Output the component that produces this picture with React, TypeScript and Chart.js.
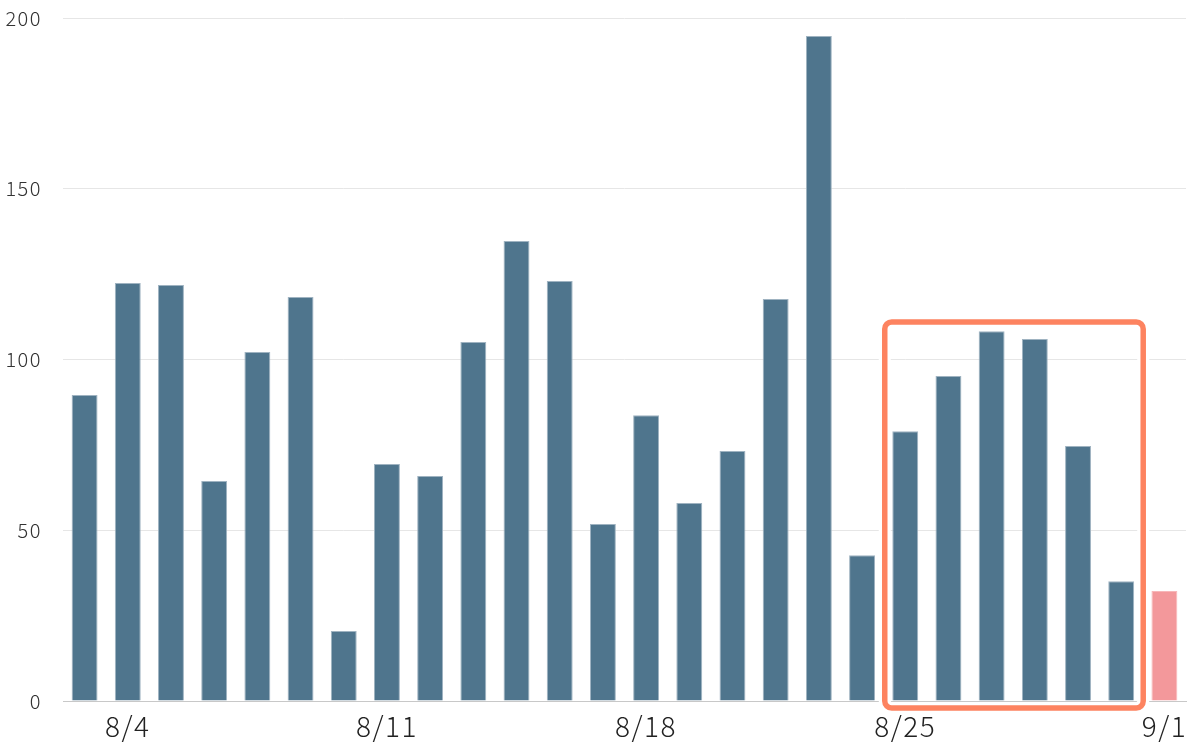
import React, { useEffect, useRef } from "react";
import { Chart, registerables } from "chart.js";

Chart.register(...registerables);

const categories = [
  "8/2", "8/4", "8/5", "8/6", "8/7", "8/8", "8/9",
  "8/11", "8/12", "8/13", "8/14", "8/15", "8/16",
  "8/18", "8/19", "8/20", "8/21", "8/22", "8/23",
  "8/25", "8/26", "8/27", "8/28", "8/29", "8/30",
  "9/1",
];
const shownTicks = ["8/4", "8/11", "8/18", "8/25", "9/1"];
const values = [
  89.6, 122.4, 121.8, 64.4, 102.2, 118.3, 20.5,
  69.4, 65.9, 105.1, 134.7, 123.0, 51.8,
  83.7, 58.0, 73.2, 117.7, 194.7, 42.7,
  79.0, 95.2, 108.3, 106.0, 74.7, 35.1,
  32.2,
];
const highlightStart = 19;
const highlightEnd = 24;
const highlightTop = 111;

const BAR = "#4f758d";
const PINK = "#f3989b";
const ORANGE = "#fd8360";
const FONT = "'Noto Sans CJK JP', 'Noto Sans', sans-serif";

const spacingPlugin = {
  id: "spacing",
  beforeInit(chart: any) {
    chart.ctx.letterSpacing = "1.5px";
  },
  beforeDraw(chart: any) {
    chart.ctx.letterSpacing = "1.5px";
  },
};

const boxPlugin = {
  id: "highlightBox",
  afterDatasetsDraw(chart: any) {
    const { ctx, scales } = chart;
    const x = scales.x;
    const y = scales.y;
    const left = x.getPixelForValue(highlightStart) - 20.5;
    const right = x.getPixelForValue(highlightEnd) + 22;
    const top = y.getPixelForValue(highlightTop);
    const bottom = y.getPixelForValue(0) + 7;
    ctx.save();
    ctx.beginPath();
    ctx.roundRect(left, top, right - left, bottom - top, 7);
    ctx.strokeStyle = "#ffffff";
    ctx.lineWidth = 12;
    ctx.stroke();
    ctx.beginPath();
    ctx.roundRect(left, top, right - left, bottom - top, 7);
    ctx.strokeStyle = ORANGE;
    ctx.lineWidth = 5.5;
    ctx.stroke();
    ctx.restore();
  },
};

export default function App() {
  const ref = useRef<HTMLCanvasElement | null>(null);
  useEffect(() => {
    document.body.style.margin = "0";
    const chart = new Chart(ref.current as HTMLCanvasElement, {
      type: "bar",
      data: {
        labels: categories,
        datasets: [
          {
            data: values,
            backgroundColor: values.map((_, i) => (i === values.length - 1 ? PINK : BAR)),
            borderColor: values.map((_, i) => (i === values.length - 1 ? "#f7b7b9" : "#9fb3c1")),
            borderWidth: 1,
            categoryPercentage: 1,
            barPercentage: 0.6,
          },
        ],
      },
      options: {
        animation: false,
        responsive: false,
        maintainAspectRatio: false,
        layout: { padding: { top: 4, right: 14, left: 0, bottom: 0 } },
        plugins: { legend: { display: false }, tooltip: { enabled: false } },
        scales: {
          x: {
            offset: true,
            grid: { display: false, drawTicks: false },
            border: { display: true, color: "#c8c8c8", width: 1 },
            afterFit: (s: any) => { s.height = 43; },
            ticks: {
              autoSkip: false,
              maxRotation: 0,
              padding: 9,
              color: "#222222",
              font: { family: FONT, size: 28, weight: "300" },
              callback: (_v: any, i: number) => (shownTicks.includes(categories[i]) ? categories[i] : ""),
            },
          },
          y: {
            min: 0,
            max: 200,
            grid: { color: "#e6e6e6", drawTicks: false, lineWidth: 1 },
            border: { display: false },
            afterFit: (s: any) => { s.width = 63; s.paddingTop = 18; s.paddingBottom = 0; },
            ticks: {
              stepSize: 50,
              padding: 21,
              color: "#333333",
              font: { family: FONT, size: 20, weight: "300" },
            },
          },
        },
      },
      plugins: [spacingPlugin, boxPlugin],
    });
    return () => chart.destroy();
  }, []);
  return (
    <div style={{ position: "fixed", left: 0, top: 0, width: 1200, height: 744, background: "#fff" }}>
      <canvas ref={ref} width={1200} height={744} style={{ width: 1200, height: 744 }} />
    </div>
  );
}
